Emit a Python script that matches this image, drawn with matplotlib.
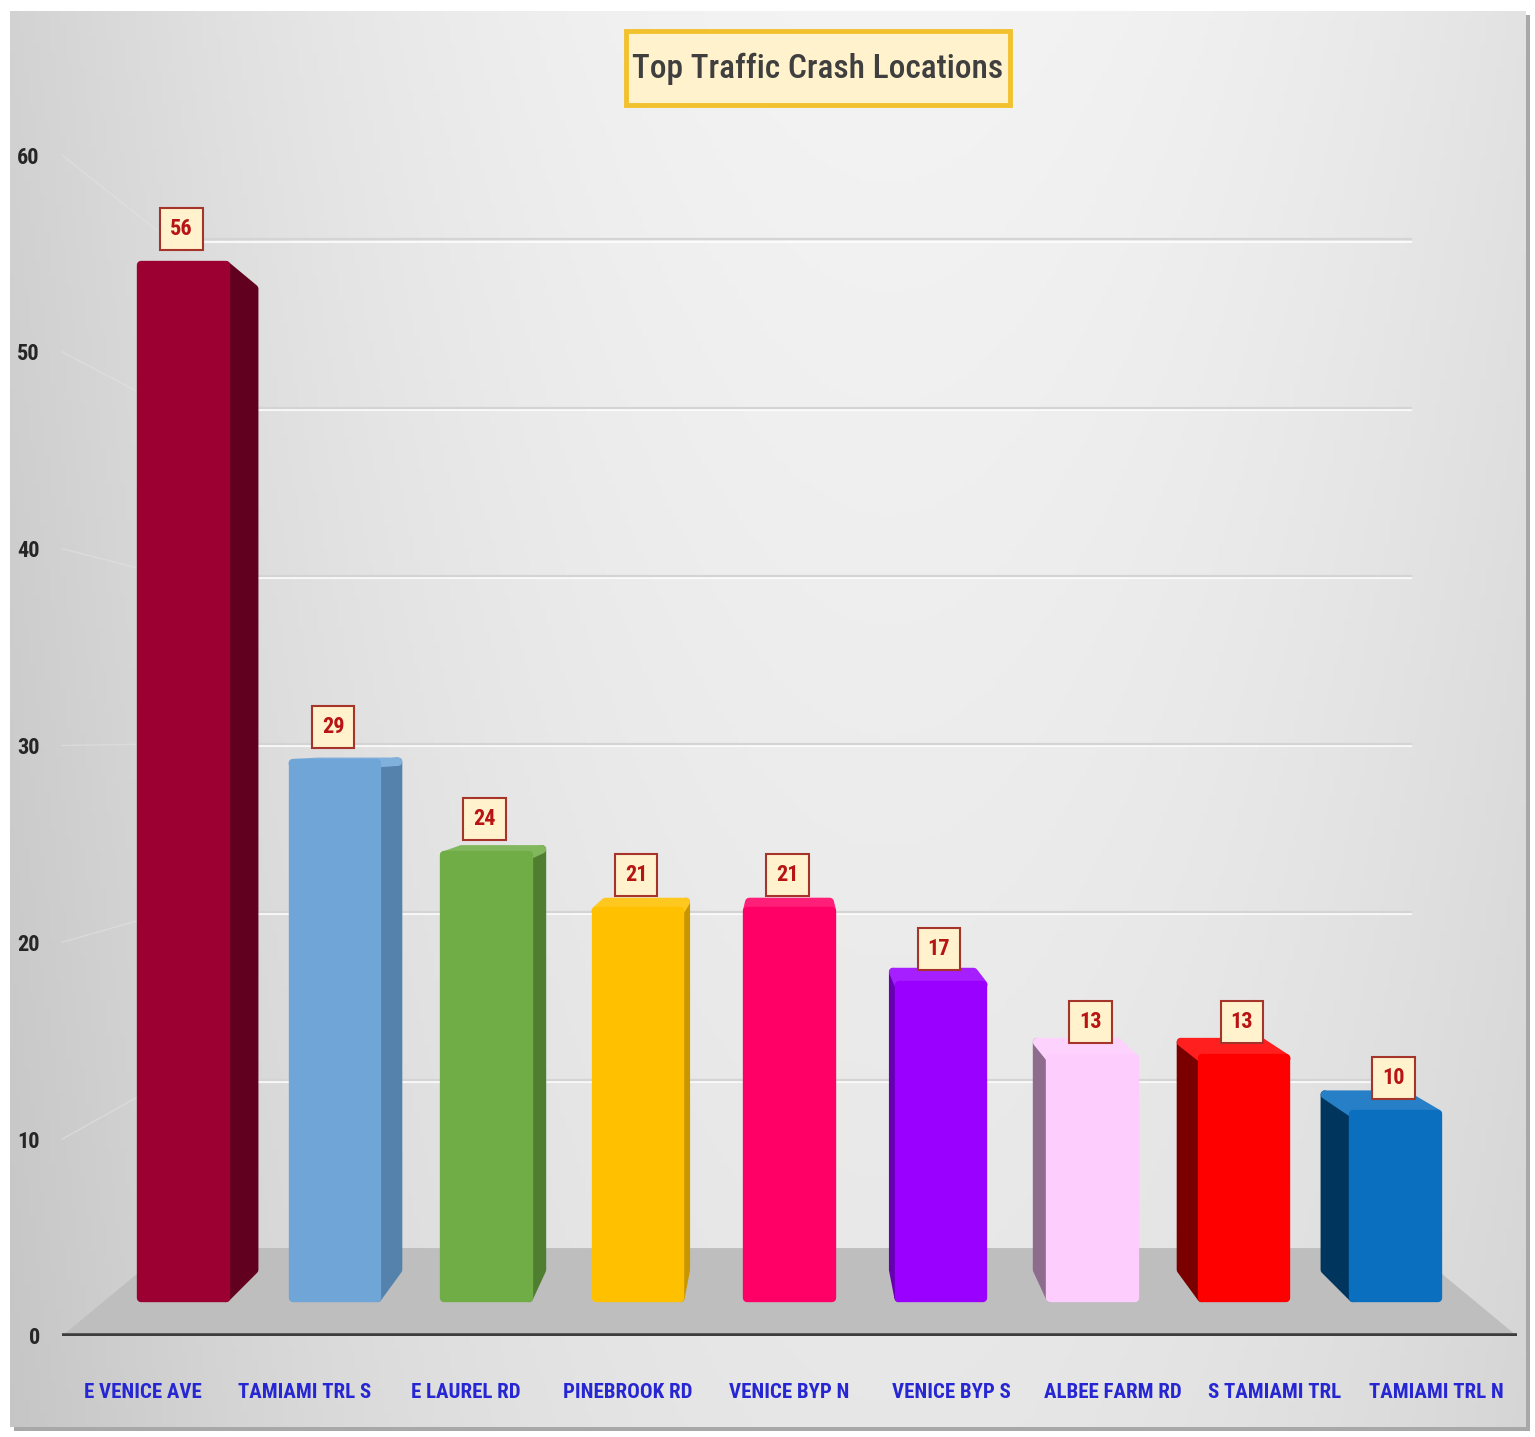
"""Top traffic crash locations shown as an Excel-style 3D column chart."""

import matplotlib.pyplot as plt
import numpy as np
from matplotlib.colors import to_rgb
from matplotlib.patches import Polygon, Rectangle
from matplotlib.transforms import Affine2D


LOCATIONS = [
    "E VENICE AVE",
    "TAMIAMI TRL S",
    "E LAUREL RD",
    "PINEBROOK RD",
    "VENICE BYP N",
    "VENICE BYP S",
    "ALBEE FARM RD",
    "S TAMIAMI TRL",
    "TAMIAMI TRL N",
]
CRASHES = [56, 29, 24, 21, 21, 17, 13, 13, 10]
FRONT_COLORS = ["#9C0032", "#6FA5D7", "#70AD47", "#FFC000", "#FF0066",
                "#9A00FF", "#FDCDFD", "#FF0000", "#0A6FBF"]
SIDE_COLORS = ["#620020", "#5482AD", "#4F7E31", "#C99600", "#B8004A",
               "#6600B0", "#8E6C8E", "#7A0000", "#00365E"]
Y_TICKS = [0, 10, 20, 30, 40, 50, 60]
TITLE = "Top Traffic Crash Locations"

FONT = ["Roboto Condensed", "DejaVu Sans"]

# simple one-point perspective: the vanishing point sits behind the 5th column
VANISH = (4.0, 30.6)
WALL_DEPTH = 0.854
BAR_FRONT = 0.937
BAR_BACK = 0.89
BAR_WIDTH = 0.56


def project(x, y, depth):
    """Move a front-plane point back towards the vanishing point."""
    return (VANISH[0] + (x - VANISH[0]) * depth,
            VANISH[1] + (y - VANISH[1]) * depth)


def lighten(color, amount):
    rgb = np.array(to_rgb(color))
    return tuple(rgb + (1 - rgb) * amount)


plt.rcParams["font.family"] = FONT

W, H = 1535, 1437
fig = plt.figure(figsize=(W / 100, H / 100), dpi=100)
fig.patch.set_facecolor("white")

# chart area background with drop shadow
shadow = Rectangle((14 / W, 6 / H), 1516 / W, 1416 / H, transform=fig.transFigure,
                   facecolor="#A8A8A8", edgecolor="none")
shadow.set_zorder(-5)
fig.patches.append(shadow)
bg = fig.add_axes([10 / W, 10 / H, 1516 / W, 1416 / H], zorder=0)
gx, gy = np.meshgrid(np.linspace(0, 1, 300), np.linspace(0, 1, 300))
shade = 0.955 - 0.13 * ((gx - 0.58) / 0.58) ** 2 - 0.05 * gy
bg.imshow(np.dstack([shade] * 3), extent=(0, 1, 0, 1), aspect="auto", origin="upper")
bg.axis("off")

ax = fig.add_axes([62 / W, 101 / H, 1455 / W, 1181 / H], zorder=1)
ax.set_facecolor("none")
ax.set_xlim(-0.5, 8.5)
ax.set_ylim(0, 60)
for spine in ax.spines.values():
    spine.set_visible(False)

# back wall gridlines and faint side wall lines
for value in Y_TICKS[1:]:
    (x0, y0), (x1, y1) = project(-0.5, value, WALL_DEPTH), project(8.5, value, WALL_DEPTH)
    ax.plot([x0, x1], [y0 - 0.12, y1 - 0.12], color="white", lw=1.5, alpha=0.8, zorder=1)
    ax.plot([x0, x1], [y0, y1], color="#D4D4D4", lw=1.6, zorder=1)
    ax.plot([-0.5, x0], [value, y0], color="#E2E2E2", lw=1.0, alpha=0.6, zorder=1, clip_on=False)

# floor
floor = [project(-0.5, 0, 1), project(8.5, 0, 1), project(8.5, 0, WALL_DEPTH), project(-0.5, 0, WALL_DEPTH)]
ax.add_patch(Polygon(floor, closed=True, facecolor="#BEBEBE", edgecolor="none", zorder=1))
ax.axhline(0, color="#3C3C3C", lw=4, zorder=2)
ax.axhline(-0.25, color="#9A9A9A", lw=2, alpha=0.6, zorder=2)

# side and top faces of the columns
positions = np.arange(len(CRASHES))
half = BAR_WIDTH / 2
for x, value, front, side in zip(positions, CRASHES, FRONT_COLORS, SIDE_COLORS):
    for edge, visible in ((x + half, x + half < VANISH[0]), (x - half, x - half > VANISH[0])):
        if visible:
            face = [project(edge, 0, BAR_FRONT), project(edge, value, BAR_FRONT),
                    project(edge, value, BAR_BACK), project(edge, 0, BAR_BACK)]
            ax.add_patch(Polygon(face, closed=True, facecolor=side, edgecolor=side,
                                 lw=6, joinstyle="round", zorder=3))
    if value < VANISH[1]:
        top = [project(x - half, value, BAR_FRONT), project(x + half, value, BAR_FRONT),
               project(x + half, value, BAR_BACK), project(x - half, value, BAR_BACK)]
        ax.add_patch(Polygon(top, closed=True, facecolor=lighten(front, 0.12),
                             edgecolor=lighten(front, 0.12), lw=6, joinstyle="round", zorder=3))

# front faces, rounded a little through a thick round-joined edge
persp = Affine2D().translate(-VANISH[0], -VANISH[1]).scale(BAR_FRONT).translate(*VANISH) + ax.transData
ax.bar(positions, CRASHES, width=BAR_WIDTH, color=FRONT_COLORS, edgecolor=FRONT_COLORS,
       linewidth=6, joinstyle="round", transform=persp, zorder=4)

for x, value in zip(positions, CRASHES):
    ax.annotate(str(value), xy=project(x, value, BAR_FRONT), xytext=(-2, 36),
                textcoords="offset pixels", ha="center", va="center",
                fontsize=16, fontweight="bold", color="#B81414", zorder=6,
                bbox=dict(boxstyle="square,pad=0.45", facecolor="#FFF2CC",
                          edgecolor="#A5352A", linewidth=1.5))

ax.set_yticks(Y_TICKS, [str(t) for t in Y_TICKS])
ax.set_xticks(positions, LOCATIONS)
ax.tick_params(axis="y", length=0, pad=16, labelsize=16, labelcolor="#262626")
ax.tick_params(axis="x", length=0, pad=34, labelsize=15, labelcolor="#2626D2")
for label in ax.get_xticklabels() + ax.get_yticklabels():
    label.set_fontweight("bold")

# title in a framed box
fig.patches.append(Rectangle((626 / W, 1 - 105 / H), 384 / W, 74 / H, transform=fig.transFigure,
                             facecolor="#FFF2CC", edgecolor="#F2C12E", linewidth=3.5, zorder=2))
fig.text(818 / W, 1 - 69 / H, TITLE, ha="center", va="center", fontsize=24,
         fontweight="medium", color="#3F3F3F", zorder=3)

fig.savefig("out.png", dpi=100)
